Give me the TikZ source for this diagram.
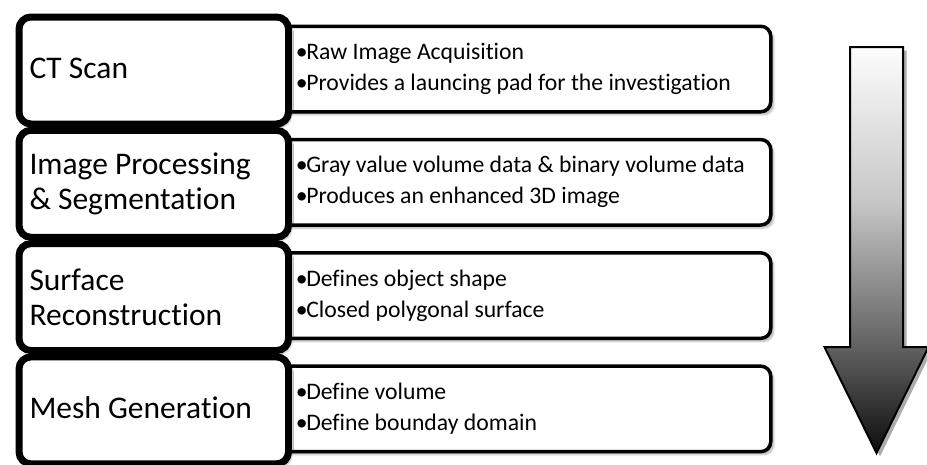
\documentclass[tikz,border=0pt]{standalone}
\usepackage{fontspec}
\setmainfont{Carlito}[Ligatures=NoCommon]
\usetikzlibrary{shadows.blur}
\pgfdeclareverticalshading{arrowshade}{100bp}{color(0bp)=(black!95); color(25bp)=(black!95); color(38bp)=(black!62); color(56bp)=(black!22); color(75bp)=(black!1); color(100bp)=(black!1)}
\newcommand\itemdot{\makebox[10.5pt][l]{•}}
\newcommand\liftup[1]{\raisebox{-8pt}[0pt][0pt]{#1}}
\begin{document}
\begin{tikzpicture}[x=1pt,y=-1pt,
  stagebox/.style={draw=black, line width=7pt, rounded corners=12pt, fill=white,
    anchor=north west, minimum height=107pt, text width=248.5pt, inner xsep=10.5pt,
    align=flush left, font=\fontsize{31.5}{35}\selectfont,
    blur shadow={shadow xshift=3pt, shadow yshift=-3pt, shadow blur steps=6, shadow opacity=35}},
  detailbox/.style={draw=black, line width=3.5pt, rounded corners=10pt, fill=white,
    anchor=north west, minimum height=85.5pt, text width=451pt, inner xsep=24pt,
    align=flush left, font=\fontsize{23.7}{31}\selectfont,
    blur shadow={shadow xshift=3pt, shadow yshift=-3pt, shadow blur steps=6, shadow opacity=30}}]
\useasboundingbox (0,0) rectangle (927,464);

% detail boxes (behind)
\node[detailbox] (d1) at (270,24.5) {\itemdot Raw Image Acquisition\\\itemdot Provides a launcing pad for the investigation};
\node[detailbox] (d2) at (270,137.8) {\itemdot Gray value volume data \& binary volume data\\\itemdot Produces an enhanced 3D image};
\node[detailbox] (d3) at (270,251.1) {\itemdot Defines object shape\\\itemdot Closed polygonal surface};
\node[detailbox] (d4) at (270,364.4) {\itemdot Define volume\\\itemdot Define bounday domain};

% stage boxes
\node[stagebox] (s1) at (15.5,13.5) {\liftup{CT Scan}};
\node[stagebox] (s2) at (15.5,126.8) {Image Processing\\\& Segmentation};
\node[stagebox] (s3) at (15.5,240.1) {Surface\\Reconstruction};
\node[stagebox] (s4) at (15.5,353.4) {\liftup{Mesh Generation}};

% arrow
\fill[black!40, opacity=0.8, shift={(3.5,3.5)}]
  (850,47) -- (903,47) -- (903,347) -- (928.5,347) -- (876.5,453) -- (824.5,347) -- (850,347) -- cycle;
\draw[line width=2pt, line join=miter, shading=arrowshade]
  (850,47) -- (903,47) -- (903,347) -- (928.5,347) -- (876.5,453) -- (824.5,347) -- (850,347) -- cycle;
\end{tikzpicture}
\end{document}
